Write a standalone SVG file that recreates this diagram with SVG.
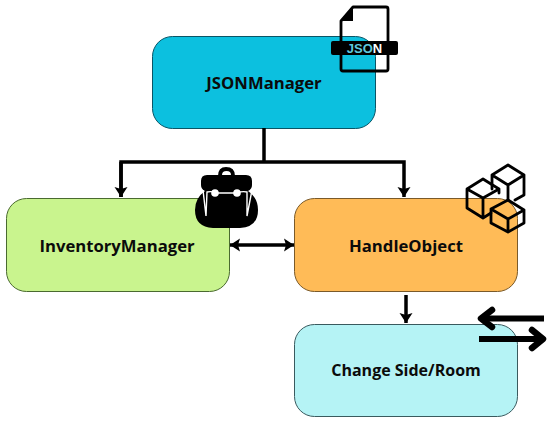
<svg xmlns="http://www.w3.org/2000/svg" width="550" height="422" viewBox="0 0 550 422">
<defs>
<marker id="ah" markerUnits="userSpaceOnUse" markerWidth="12" markerHeight="14" refX="10" refY="7" orient="auto-start-reverse"><path d="M0 0.500L10 7L0 13.500L2 7Z" fill="#000"/></marker>
</defs>
<style>
text{font-family:"Open Sans","Noto Sans",sans-serif;font-weight:700;font-size:16.700px;fill:#0b0b0b;text-anchor:middle}
.box{stroke-width:1}
.c{fill:none;stroke:#000;stroke-width:3.500}
.ic{fill:none;stroke:#000;stroke-width:2.800;stroke-linejoin:round;stroke-linecap:round}
.big{fill:none;stroke:#000;stroke-width:6;stroke-linejoin:round}
.big2{fill:none;stroke:#000;stroke-width:6.500;stroke-linecap:round;stroke-linejoin:round}
</style>
<rect width="550" height="422" fill="#fff"/>
<g id="node-json">
<rect class="box" x="152.500" y="36.500" width="223" height="92" rx="20" fill="#0cc0df" stroke="#0a5566"/>
<text x="264" y="89">JSONManager</text>
<path class="ic" d="M341 21L353 7H386Q388 7 388 9V69Q388 71 386 71H343Q341 71 341 69Z"/>
<path d="M341 21L353 7V21Z" fill="#000"/>
<rect x="331" y="41" width="67" height="14" rx="2" fill="#000"/>
<text x="364.500" y="52.700" style="font-family:'Liberation Sans',sans-serif;font-size:13px;fill:#5ec8de">JSO<tspan fill="#fff">N</tspan></text>
</g>
<g id="node-inventory">
<rect class="box" x="6.500" y="198.500" width="223" height="93" rx="20" fill="#c9f48e" stroke="#4a6a30"/>
<text x="117" y="252">InventoryManager</text>
<path d="M218 176Q218 167 226 167Q235 167 235 176ZM201 181Q201 175 207 175H246Q252 175 252 181V185Q252 189 248 191Q258 198 258 210Q258 227 240 228H213Q195 227 195 210Q195 198 205 191Q201 189 201 185Z" fill="#000"/>
<path d="M222 175Q222 171 226.500 171Q231 171 231 175Z" fill="#fff"/>
<path d="M203 190L206 216L207 192Q212 191 216 193H237Q242 191 247 192L247 216L252 190" fill="none" stroke="#fff" stroke-width="1.400"/>
<circle cx="215" cy="193" r="3.800" fill="#fff"/><circle cx="237" cy="193" r="3.800" fill="#fff"/>
</g>
<g id="node-handle">
<rect class="box" x="294.500" y="198.500" width="223" height="93" rx="20" fill="#ffbb57" stroke="#7a5a2a"/>
<text x="406" y="252">HandleObject</text>
<g class="ic">
<path d="M483 179L499 189L483 198L467 189ZM467 189V208L483 218L491 213M483 198V218M499 189V193"/>
<path d="M508 165L524 175L508 185L492 175ZM492 175V189M508 185V200M524 175V195L515 200"/>
<path d="M508 200L524 210L508 219L491 209ZM491 209V223L508 232L524 223V210M508 219V232"/>
</g>
</g>
<g id="node-change">
<rect class="box" x="294.500" y="324.500" width="223" height="92" rx="20" fill="#b5f3f5" stroke="#3a5a5e"/>
<text x="406" y="376" style="font-size:16px">Change Side/Room</text>
<path class="big" d="M544 318.500H481"/>
<path class="big2" d="M492 310L481 318.500L492 327"/>
<path class="big" d="M479 339H542"/>
<path class="big2" d="M532 330L543 339L532 348"/>
</g>
<g id="connectors">
<path class="c" d="M264 128V162"/>
<path class="c" d="M121 197V162H404V197" marker-end="url(#ah)"/>
<path class="c" d="M121 162V197" marker-end="url(#ah)"/>
<path class="c" d="M230 245H294" marker-start="url(#ah)" marker-end="url(#ah)"/>
<path class="c" d="M406 295V323" marker-end="url(#ah)"/>
</g>
</svg>
